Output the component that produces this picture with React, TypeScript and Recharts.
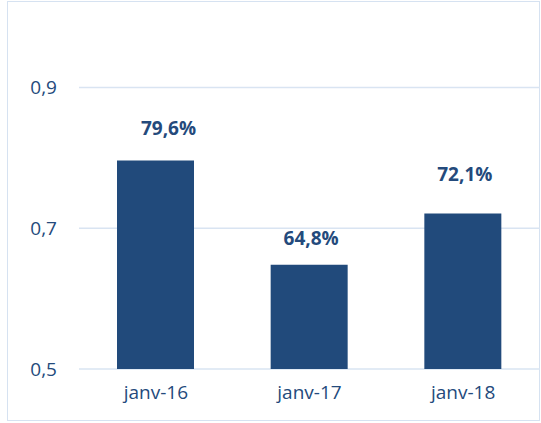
import { BarChart, Bar, XAxis, YAxis, CartesianGrid, LabelList } from "recharts";

const months = ["janv-16", "janv-17", "janv-18"];
const rates = [0.796, 0.648, 0.721];
const yTicks = [0.5, 0.7, 0.9];

// manual label nudges, as in the source chart
const labelShift = [
  { dx: 13, dy: -33 },
  { dx: 2, dy: -27 },
  { dx: 2, dy: -39 },
];

const data = months.map((m, i) => ({ month: m, rate: rates[i] }));

const fmtTick = (v: number) => v.toFixed(1).replace(".", ",");
const fmtPct = (v: number) => (v * 100).toFixed(1).replace(".", ",") + "%";

const TEXT = "#244a7c";
const BAR = "#214a7b";
const FONT = "'Open Sans', sans-serif";

const renderLabel = (props: any) => {
  const { x, y, width, value, index } = props;
  const s = labelShift[index] || { dx: 0, dy: -30 };
  return (
    <text
      x={x + width / 2 + s.dx}
      y={y + s.dy}
      textAnchor="middle"
      dominantBaseline="central"
      fill={TEXT}
      fontFamily={FONT}
      fontSize={19}
      fontWeight="bold"
    >
      {fmtPct(value)}
    </text>
  );
};

const App = () => {
  return (
    <div
      style={{
        position: "absolute",
        left: 0,
        top: 0,
        width: 541,
        height: 423,
        background: "#fff",
      }}
    >
      <div
        style={{
          position: "absolute",
          left: 7,
          top: 1,
          width: 531,
          height: 418,
          border: "1.5px solid #d6e2f1",
        }}
      />
      <div style={{ position: "absolute", left: 0, top: 0 }}>
        <BarChart
          width={541}
          height={423}
          data={data}
          margin={{ top: 17, right: 1, bottom: 0, left: 0 }}
        >
          <CartesianGrid
            vertical={false}
            stroke="#d9e4f2"
            strokeWidth={1.5}
            horizontalValues={yTicks}
          />
          <XAxis
            dataKey="month"
            height={54}
            axisLine={false}
            tickLine={false}
            tickSize={0}
            tickMargin={17}
            tick={{ fill: TEXT, fontSize: 19, fontFamily: FONT }}
          />
          <YAxis
            width={79}
            domain={[0.5, 1.0]}
            ticks={yTicks}
            tickFormatter={fmtTick}
            axisLine={false}
            tickLine={false}
            tickSize={0}
            tickMargin={22}
            tick={{ fill: TEXT, fontSize: 19, fontFamily: FONT }}
          />
          <Bar dataKey="rate" fill={BAR} barSize={77} isAnimationActive={false}>
            <LabelList dataKey="rate" content={renderLabel} />
          </Bar>
        </BarChart>
      </div>
    </div>
  );
};

export default App;
